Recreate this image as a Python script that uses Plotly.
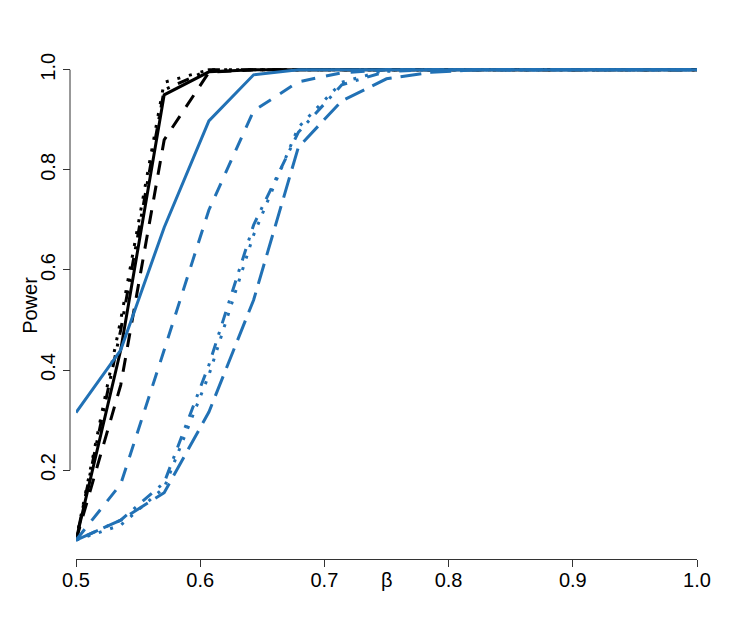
import plotly.graph_objects as go

# beta grid
beta = [0.5, 0.536, 0.571, 0.607, 0.643, 0.679, 0.714, 0.75,
        0.786, 0.821, 0.857, 0.893, 0.929, 0.964, 1.0]

# power curves
black_solid = [0.06, 0.44, 0.95, 0.996, 1.0, 1.0, 1.0, 1.0, 1.0, 1.0, 1.0, 1.0, 1.0, 1.0, 1.0]
black_dashed = [0.06, 0.37, 0.86, 0.995, 1.0, 1.0, 1.0, 1.0, 1.0, 1.0, 1.0, 1.0, 1.0, 1.0, 1.0]
black_dotted = [0.06, 0.50, 0.975, 1.0, 1.0, 1.0, 1.0, 1.0, 1.0, 1.0, 1.0, 1.0, 1.0, 1.0, 1.0]
black_dotdash = [0.06, 0.48, 0.96, 1.0, 1.0, 1.0, 1.0, 1.0, 1.0, 1.0, 1.0, 1.0, 1.0, 1.0, 1.0]
blue_solid = [0.315, 0.44, 0.685, 0.898, 0.99, 1.0, 1.0, 1.0, 1.0, 1.0, 1.0, 1.0, 1.0, 1.0, 1.0]
blue_dashed = [0.06, 0.172, 0.44, 0.72, 0.918, 0.976, 0.994, 1.0, 1.0, 1.0, 1.0, 1.0, 1.0, 1.0, 1.0]
blue_dotted = [0.06, 0.09, 0.165, 0.39, 0.67, 0.885, 0.975, 1.0, 1.0, 1.0, 1.0, 1.0, 1.0, 1.0, 1.0]
blue_dotdash = [0.06, 0.10, 0.175, 0.41, 0.69, 0.875, 0.97, 0.997, 1.0, 1.0, 1.0, 1.0, 1.0, 1.0, 1.0]
blue_longdash = [0.06, 0.10, 0.155, 0.316, 0.54, 0.845, 0.938, 0.982, 0.995, 1.0, 1.0, 1.0, 1.0, 1.0, 1.0]

x_ticks = [0.5, 0.6, 0.7, 0.8, 0.9, 1.0]
y_ticks = [0.2, 0.4, 0.6, 0.8, 1.0]

BLUE = '#2171b5'
FONT = 'Liberation Sans, Arial, sans-serif'

# R-like dash patterns for lwd=3
dotted = '3px,9px'
dashed = '14px,11px'
dotdash = '3px,9px,12px,9px'
longdash = '21px,9px'

curves = [
    (black_solid, 'black', 'solid'),
    (black_dashed, 'black', dashed),
    (black_dotted, 'black', dotted),
    (black_dotdash, 'black', dotdash),
    (blue_solid, BLUE, 'solid'),
    (blue_dashed, BLUE, dashed),
    (blue_dotted, BLUE, dotted),
    (blue_dotdash, BLUE, dotdash),
    (blue_longdash, BLUE, longdash),
]

fig = go.Figure()
for ys, col, dash in curves:
    fig.add_trace(go.Scatter(x=beta, y=ys, mode='lines',
                             line=dict(color=col, width=3, dash=dash),
                             hoverinfo='skip'))

# page body adds ~8px offset, so margins are shifted up/left by 8
fig.update_layout(
    width=747, height=623,
    showlegend=False,
    paper_bgcolor='white',
    plot_bgcolor='white',
    margin=dict(l=62, r=58, t=43, b=72),
    font=dict(family=FONT, size=20, color='black'),
    xaxis=dict(domain=[6 / 627, 1], range=[0.5, 1.0], automargin=False,
               tickvals=x_ticks, ticktext=['0.5', '0.6', '0.7', '0.8', '0.9', '1.0'],
               tickfont=dict(size=20), ticklabelstandoff=-4,
               showgrid=False, zeroline=False,
               showline=True, linecolor='#333', linewidth=1,
               ticks='outside', ticklen=7, tickcolor='#333'),
    yaxis=dict(range=[0.0224, 1.0376], anchor='free', position=0, automargin=False,
               tickvals=y_ticks, ticktext=['0.2', '0.4', '0.6', '0.8', '1.0'],
               tickangle=-90, tickfont=dict(size=20), ticklabelstandoff=0,
               showgrid=False, zeroline=False, showline=False,
               ticks='outside', ticklen=7, tickcolor='#333'),
)

# R-style y axis line spanning only the tick range
fig.add_shape(type='line', xref='paper', yref='y', x0=0, x1=0, y0=0.2, y1=1.0,
              line=dict(color='#333', width=1))

fig.add_annotation(text='Power', xref='paper', yref='paper', x=-0.064, y=0.5,
                   xanchor='center', yanchor='middle',
                   textangle=-90, showarrow=False, font=dict(size=20))
fig.add_annotation(text='β', xref='x', yref='paper', x=0.75, y=-0.042,
                   xanchor='center', yanchor='middle', showarrow=False,
                   font=dict(size=20))

fig.write_html("out.html")
